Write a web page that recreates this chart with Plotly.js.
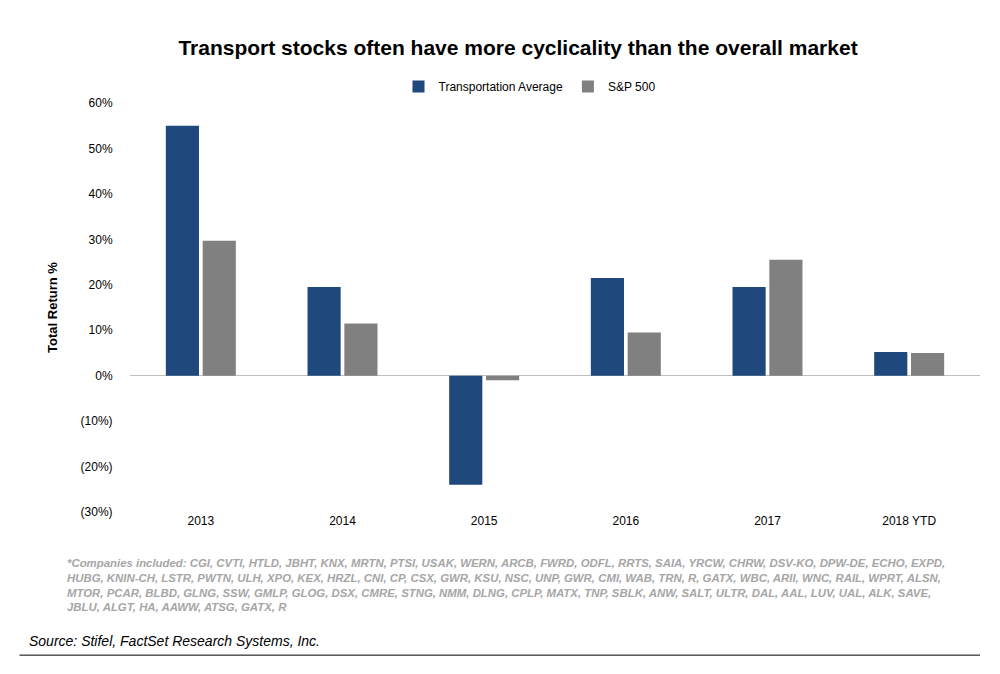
<!DOCTYPE html>
<html><head><meta charset="utf-8">
<script src="https://cdn.plot.ly/plotly-3.0.1.min.js"></script>
<style>body{margin:0;background:#fff}#c{width:1000px;height:674px}</style>
</head><body><div id="c"></div>
<script>
const categories = ["2013","2014","2015","2016","2017","2018 YTD"];
const transportAvg = [55, 19.5, -24, 21.5, 19.5, 5.2];
const sp500 = [29.7, 11.5, -1, 9.5, 25.5, 5];
const tickVals = [60,50,40,30,20,10,0,-10,-20,-30];
const tickText = ["60%","50%","40%","30%","20%","10%","0%","(10%)","(20%)","(30%)"];
const footnote = "*Companies included: CGI, CVTI, HTLD, JBHT, KNX, MRTN, PTSI, USAK, WERN, ARCB, FWRD, ODFL, RRTS, SAIA, YRCW, CHRW, DSV-KO, DPW-DE, ECHO, EXPD,<br>HUBG, KNIN-CH, LSTR, PWTN, ULH, XPO, KEX, HRZL, CNI, CP, CSX, GWR, KSU, NSC, UNP, GWR, CMI, WAB, TRN, R, GATX, WBC, ARII, WNC, RAIL, WPRT, ALSN,<br>MTOR, PCAR, BLBD, GLNG, SSW, GMLP, GLOG, DSX, CMRE, STNG, NMM, DLNG, CPLP, MATX, TNP, SBLK, ANW, SALT, ULTR, DAL, AAL, LUV, UAL, ALK, SAVE,<br>JBLU, ALGT, HA, AAWW, ATSG, GATX, R";
const F = "Liberation Sans, Arial, sans-serif";
Plotly.newPlot("c", [
 {type:"bar", name:"Transportation Average", x:categories, y:transportAvg, marker:{color:"#1f497d"}},
 {type:"bar", name:"S&P 500", x:categories, y:sp500, marker:{color:"#808080"}}
], {
 width:1000, height:674, paper_bgcolor:"#fff", plot_bgcolor:"#fff",
 margin:{l:130,r:20,t:103,b:162},
 font:{family:F, size:12, color:"#000"},
 title:{text:"<b>Transport stocks often have more cyclicality than the overall market</b>", x:0.518, xanchor:"center", y:0.94, font:{size:21, color:"#000"}},
 bargap:0.48, bargroupgap:0.1,
 showlegend:true,
 legend:{orientation:"h", x:0.47, xanchor:"center", y:1.005, yanchor:"bottom", font:{size:12}, itemwidth:30},
 xaxis:{type:"category", showline:false, ticks:"", tickfont:{size:12}},
 yaxis:{range:[-30,60], tickvals:tickVals, ticktext:tickText, showgrid:false, zeroline:true, zerolinecolor:"#bfbfbf", zerolinewidth:1, ticks:"outside", ticklen:14, tickcolor:"#fff", tickfont:{size:12},
   title:{text:"<b>Total Return %</b>", font:{size:13}, standoff:20}},
 annotations:[
  {xref:"paper", yref:"paper", x:-0.076, y:-0.105, xanchor:"left", yanchor:"top", align:"left", showarrow:false,
   text:"<b><i>"+footnote+"</i></b>", font:{size:11.4, color:"#a6a6a6"}},
  {xref:"paper", yref:"paper", x:-0.121, y:-0.29, xanchor:"left", yanchor:"top", align:"left", showarrow:false,
   text:"<i>Source: Stifel, FactSet Research Systems, Inc.</i>", font:{size:14, color:"#000"}}
 ],
 shapes:[{type:"line", xref:"paper", yref:"paper", x0:-0.13, x1:1.0, y0:-0.35, y1:-0.35, line:{color:"#000", width:1}}]
}, {displayModeBar:false});
</script></body></html>
